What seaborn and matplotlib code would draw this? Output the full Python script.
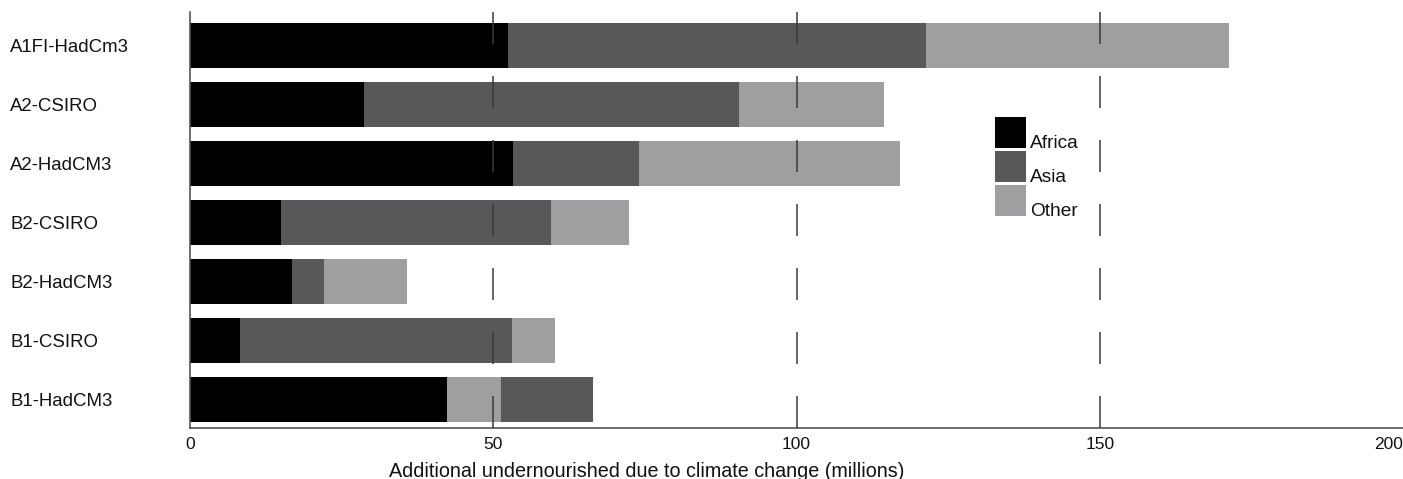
import matplotlib
matplotlib.use("Agg")
import matplotlib.pyplot as plt
from matplotlib.patches import Rectangle
import numpy as np
import pandas as pd
import seaborn as sns

# values (millions)
scenarios = ["A1FI-HadCm3", "A2-CSIRO", "A2-HadCM3", "B2-CSIRO",
             "B2-HadCM3", "B1-CSIRO", "B1-HadCM3"]
africa = [52.4, 28.7, 53.3, 15.0, 16.8, 8.2, 42.4]
asia = [69.0, 61.8, 20.7, 44.5, 5.3, 44.9, 15.1]
other = [49.9, 23.9, 43.1, 12.9, 13.7, 7.1, 8.9]
# B1-HadCM3 is stacked with "Other" before "Asia" in the original figure
stack_order = [["Africa", "Asia", "Other"]] * 6 + [["Africa", "Other", "Asia"]]

regions = ["Africa", "Asia", "Other"]
colors = {"Africa": "#000000", "Asia": "#58585a", "Other": "#9e9fa1"}
xticks = [0, 50, 100, 150, 200]
xlabel = "Additional undernourished due to climate change (millions)"

sns.set_style("white")
plt.rcParams["font.family"] = ["Liberation Sans", "DejaVu Sans"]

df = pd.DataFrame({"scenario": scenarios, "Africa": africa,
                   "Asia": asia, "Other": other})

fig = plt.figure(figsize=(14.03, 4.79), dpi=100)
W, H = 1403, 479
x0, x1, ytop, ybot = 190, 1403, 12, 428
ax = fig.add_axes([x0 / W, (H - ybot) / H, (x1 - x0) / W, (ybot - ytop) / H])

# cumulative layers, drawn from the outermost segment inwards
for k in reversed(range(3)):
    cum = []
    pal = {}
    for i, row in df.iterrows():
        segs = stack_order[i][:k + 1]
        cum.append(sum(row[s] for s in segs))
        pal[row["scenario"]] = colors[stack_order[i][k]]
    layer = pd.DataFrame({"scenario": df["scenario"], "value": cum})
    sns.barplot(data=layer, x="value", y="scenario", hue="scenario",
                palette=pal, order=scenarios, hue_order=scenarios,
                orient="h", width=0.76, saturation=1, legend=False,
                edgecolor="none", linewidth=0, ax=ax)

# dashed vertical grid lines on top of the bars
for xv in xticks[1:-1]:
    ax.axvline(xv, color="#3a3a3a", lw=1.1, zorder=5,
               linestyle=(0, (32 * 0.72 / 1.1, 32 * 0.72 / 1.1)))

ax.set_xlim(0, 200)
ax.set_ylim(6.483, -0.568)
ax.set_xticks(xticks)
ax.set_xticklabels([str(t) for t in xticks], fontsize=12.5)
ax.get_xticklabels()[-1].set_ha("right")
ax.tick_params(axis="x", length=0, pad=6.5, colors="#111111")
ax.tick_params(axis="y", length=0, pad=(x0 - 10) * 0.72)
for lab in ax.get_yticklabels():
    lab.set_ha("left")
    lab.set_fontsize(13.4)
    lab.set_color("#111111")
ax.set_ylabel("")

ax.set_xlabel(xlabel, fontsize=14.2, color="#111111")
ax.xaxis.label.set_va("baseline")
ax.xaxis.set_label_coords((647 - x0) / (x1 - x0), (ybot - 477) / (ybot - ytop))

for s in ["top", "right"]:
    ax.spines[s].set_visible(False)
for s in ["left", "bottom"]:
    ax.spines[s].set_color("#555555")
    ax.spines[s].set_linewidth(1.2)

# legend: square swatches with the label sitting on the swatch baseline
def to_ax(px, py):
    return (px - x0) / (x1 - x0), (ybot - py) / (ybot - ytop)

for j, reg in enumerate(regions):
    top = 117 + 34 * j
    lx, ly = to_ax(995, top + 31)
    w = 31 / (x1 - x0)
    h = 31 / (ybot - ytop)
    ax.add_patch(Rectangle((lx, ly), w, h, transform=ax.transAxes,
                           facecolor=colors[reg], edgecolor="none",
                           clip_on=False, zorder=6))
    tx, ty = to_ax(1030, top + 31)
    ax.text(tx, ty, reg, transform=ax.transAxes, fontsize=13.8,
            ha="left", va="baseline", color="#111111", zorder=6)

fig.savefig("out.png", dpi=100)
